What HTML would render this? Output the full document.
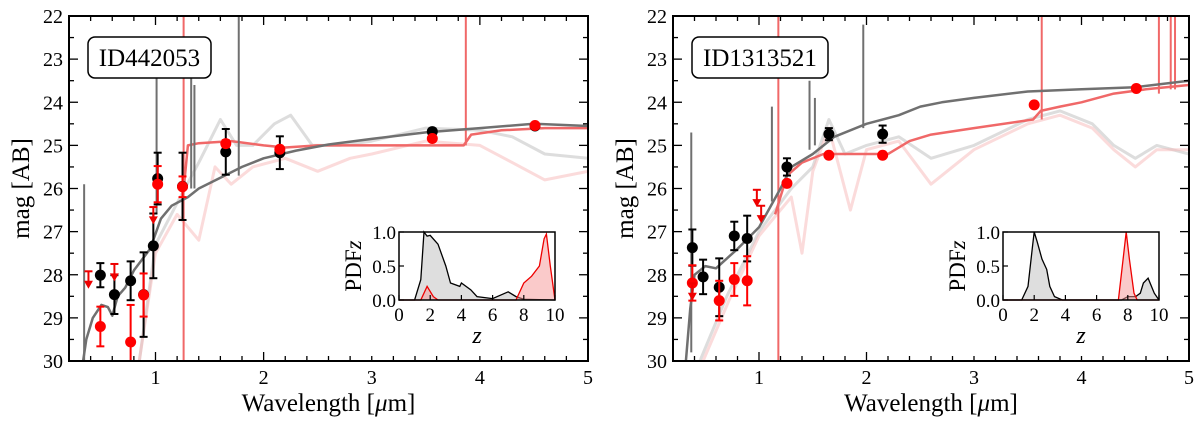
<!DOCTYPE html>
<html><head><meta charset="utf-8"><style>
html,body{margin:0;padding:0;background:#fff;width:1200px;height:425px;overflow:hidden}
svg{display:block;font-family:"Liberation Serif",serif}
</style></head><body>
<svg id="chart" width="1200" height="425" viewBox="0 0 1200 425" xmlns="http://www.w3.org/2000/svg"></svg>
<script>
// ---------- data: panel A (ID442053) ----------
const aBlackPts = [[0.49,28.01,0.28],[0.62,28.46,0.45],[0.77,28.14,0.45],[0.89,28.46,0.98],[0.98,27.33,0.75],[1.02,25.77,0.6],[1.25,25.95,0.78],[1.65,25.15,0.53],[2.15,25.17,0.38],[3.56,24.68,0.05],[4.51,24.55,0.05]];
const aRedPts = [[0.49,29.2,0.46],[0.77,29.56,0.86],[0.89,28.47,0.5],[1.02,25.9,0.42],[1.25,25.96,0.24],[1.65,24.96,0.08],[2.15,25.09,0.06],[3.56,24.84,0.05],[4.51,24.54,0.05]];
const aRedLims = [[0.38,27.92],[0.62,27.75],[0.98,26.43]];
const aBlackModel = [[0.33,30],[0.36,29.5],[0.42,29.0],[0.5,28.7],[0.56,28.75],[0.6,28.95],[0.65,28.5],[0.72,28.3],[0.8,27.9],[0.95,27.4],[1.05,26.7],[1.15,26.4],[1.3,26.2],[1.4,26.0],[1.6,25.75],[1.8,25.5],[2.0,25.3],[2.3,25.12],[2.6,24.98],[3.0,24.85],[3.5,24.7],[4.0,24.6],[4.5,24.5],[5.0,24.55]];
const aBlackSpikes = [[0.34,30,25.9],[1.01,26.6,23.2],[1.33,26.0,23.2],[1.36,26.0,23.6],[1.77,25.7,22.0]];
const aRedModel = [[1.25,26.3],[1.3,25.0],[1.4,24.95],[1.7,24.9],[2.0,25.0],[2.2,25.05],[2.5,25.0],[3.0,25.0],[3.85,25.0],[3.92,24.75],[4.2,24.65],[4.6,24.6],[5.0,24.6]];
const aRedSpikes = [[1.26,30,22],[3.87,25,22]];
const aGreySpec = [[0.85,30],[1.0,27.3],[1.25,26.1],[1.4,25.4],[1.5,24.9],[1.6,24.4],[1.75,25.0],[1.9,25.0],[2.1,24.5],[2.25,24.3],[2.45,25.0],[2.7,25.0],[3.0,24.9],[3.5,24.6],[4.0,24.65],[4.3,24.8],[4.6,25.2],[5.0,25.3]];
const aPinkSpec = [[0.85,30],[1.0,27.5],[1.2,26.6],[1.4,27.2],[1.55,25.5],[1.7,25.9],[1.9,25.5],[2.2,25.3],[2.5,25.6],[2.8,25.3],[3.0,25.2],[3.5,24.9],[4.0,25.0],[4.3,25.4],[4.6,25.8],[5.0,25.6]];
const aPdfBlack = [[0,0],[1.0,0],[1.4,0.3],[1.6,1.0],[1.8,0.94],[2.0,0.95],[2.5,0.82],[3.0,0.5],[3.3,0.25],[3.9,0.2],[4.0,0.25],[4.6,0.15],[5.0,0.05],[6.0,0.02],[7.0,0.12],[7.5,0.05],[8.0,0.01],[10,0]];
const aPdfRed = [[0,0],[1.4,0],[1.8,0.2],[2.2,0.05],[2.5,0],[7.5,0],[8.0,0.25],[8.5,0.35],[9.0,0.5],[9.3,0.9],[9.45,0.97],[9.7,0.5],[10,0]];
// ---------- data: panel B (ID1313521) ----------
const bBlackPts = [[0.38,27.37,0.42],[0.48,28.05,0.4],[0.63,28.29,0.67],[0.77,27.1,0.33],[0.89,27.16,0.53],[1.26,25.5,0.2],[1.65,24.74,0.14],[2.15,24.74,0.2]];
const bRedPts = [[0.38,28.19,0.41],[0.63,28.6,0.46],[0.77,28.11,0.38],[0.89,28.14,0.57],[1.26,25.88,0.05],[1.65,25.23,0.05],[2.15,25.23,0.05],[3.56,24.06,0.05],[4.51,23.68,0.05]];
const bRedLims = [[0.38,28.2],[0.98,26.03],[1.02,26.4]];
const bBlackModel = [[0.32,30],[0.36,28.8],[0.4,28.0],[0.5,27.8],[0.6,27.85],[0.8,27.4],[1.0,26.9],[1.2,26.0],[1.3,25.5],[1.5,25.2],[1.7,24.8],[2.0,24.5],[2.3,24.3],[2.5,24.1],[2.7,24.0],[3.0,23.9],[3.5,23.75],[4.0,23.7],[4.5,23.65],[5.0,23.5]];
const bBlackSpikes = [[0.37,29.8,24.7],[1.12,26.3,24.1],[1.47,25.1,23.5],[1.52,25.0,23.9],[1.97,24.6,22.2]];
const bRedModel = [[1.15,26.6],[1.26,25.7],[1.4,25.4],[1.6,25.2],[2.2,25.2],[2.4,24.9],[2.6,24.75],[3.0,24.6],[3.55,24.4],[3.62,24.2],[3.8,24.1],[4.0,24.0],[4.3,23.8],[4.6,23.7],[5.0,23.6]];
const bRedSpikes = [[1.18,30,22],[3.63,24.4,22],[4.72,23.8,22],[4.83,23.7,22],[4.87,23.7,22]];
const bGreySpec = [[0.45,30],[0.7,28.5],[1.0,27.0],[1.3,26.0],[1.5,25.5],[1.65,24.4],[1.8,25.2],[2.0,25.0],[2.3,24.8],[2.6,25.3],[3.0,25.0],[3.5,24.4],[3.8,24.2],[4.1,24.5],[4.3,25.0],[4.5,25.3],[4.7,25.0],[5.0,25.2]];
const bPinkSpec = [[0.48,30],[0.72,28.6],[1.0,27.1],[1.3,26.2],[1.4,27.5],[1.5,25.6],[1.65,24.6],[1.85,26.5],[2.0,25.1],[2.3,24.9],[2.6,25.9],[3.0,25.1],[3.5,24.5],[3.8,24.3],[4.1,24.6],[4.3,25.1],[4.5,25.5],[4.7,25.1],[5.0,25.1]];
const bPdfBlack = [[0,0],[1.2,0],[1.6,0.2],[1.9,0.8],[2.0,1.0],[2.2,0.85],[2.5,0.6],[2.8,0.45],[3.0,0.2],[3.3,0.05],[3.8,0],[7.6,0],[8.0,0.05],[8.5,0.05],[8.8,0.1],[9.0,0.25],[9.3,0.32],[9.7,0.1],[10,0]];
const bPdfRed = [[0,0],[7.4,0],[7.7,0.6],[7.9,1.0],[8.1,0.6],[8.4,0.1],[8.6,0],[10,0]];
const xTicks = [1,2,3,4,5];
const yTicks = [22,23,24,25,26,27,28,29,30];
const zTicks = [0,2,4,6,8,10];
const pTicks = [0.0,0.5,1.0];

const NS = "http://www.w3.org/2000/svg";
const svg = document.getElementById('chart');
function el(tag, attrs, parent, text){
  const e = document.createElementNS(NS, tag);
  for (const k in attrs) e.setAttribute(k, attrs[k]);
  if (text !== undefined) e.textContent = text;
  (parent||svg).appendChild(e); return e;
}

function panel(P){
  const g = el('g', {});
  
  
  const X = v => P.x0 + (v - 0.2) / 4.8 * (P.x1 - P.x0);
  const Y = v => P.y0 + (v - 22) / 8 * (P.y1 - P.y0);
  const clipId = P.name + '-clip';
  const defs = el('defs', {}, g);
  const cp = el('clipPath', {id: clipId}, defs);
  el('rect', {x:P.x0, y:P.y0, width:P.x1-P.x0, height:P.y1-P.y0}, cp);
  const plot = el('g', {'clip-path':'url(#'+clipId+')'}, g);
  function line(pts, stroke, w, op, name){
    const d = pts.map((p,i)=>(i?'L':'M')+X(p[0]).toFixed(1)+','+Y(p[1]).toFixed(1)).join('');
    const p = el('path', {d:d, fill:'none', stroke:stroke, 'stroke-width':w, opacity:op, 'stroke-linejoin':'round'}, plot);
    
    
  }
  line(P.grey, '#cfcfcf', 3, 0.7, 'galaxy-template-spectrum');
  line(P.pink, '#f7b8b8', 3, 0.5, 'lowz-template-spectrum');
  line(P.redModel, '#f06868', 2.5, 1, 'highz-model-sed');
  P.redSpikes.forEach(s=>{
    const l = el('line', {x1:X(s[0]), x2:X(s[0]), y1:Y(s[1]), y2:Y(s[2]), stroke:'#f06868', 'stroke-width':2}, plot);
    
    
  });
  line(P.blackModel, '#707070', 2.5, 1, 'lowz-model-sed');
  P.blackSpikes.forEach(s=>{
    const l = el('line', {x1:X(s[0]), x2:X(s[0]), y1:Y(s[1]), y2:Y(s[2]), stroke:'#707070', 'stroke-width':2}, plot);
    
    
  });
  function points(pts, col, name){
    pts.forEach(p=>{
      const cx = X(p[0]);
      if (p[2] > 0.06){
        const a = el('line', {x1:cx, x2:cx, y1:Y(p[1]-p[2]), y2:Y(p[1]+p[2]), stroke:col, 'stroke-width':2}, plot);
        
        
        [p[1]-p[2], p[1]+p[2]].forEach(v=>el('line', {x1:cx-4, x2:cx+4, y1:Y(v), y2:Y(v), stroke:col, 'stroke-width':2}, plot));
      }
      const c = el('circle', {cx:cx, cy:Y(p[1]), r:5.5, fill:col}, plot);
      
      
    });
  }
  points(P.black, '#000', 'lowz-photometry-point');
  points(P.red, '#f00', 'highz-photometry-point');
  P.lims.forEach(p=>{
    const cx = X(p[0]), yt = Y(p[1]), yb = Y(p[1]+0.38);
    const gg = el('g', {}, plot);
    
    
    el('line', {x1:cx-4, x2:cx+4, y1:yt, y2:yt, stroke:'#e00', 'stroke-width':2}, gg);
    el('line', {x1:cx, x2:cx, y1:yt, y2:yb-4, stroke:'#e00', 'stroke-width':2}, gg);
    el('path', {d:`M${cx-4.5},${yb-7}L${cx+4.5},${yb-7}L${cx},${yb+1}Z`, fill:'#e00'}, gg);
  });
  // frame
  const fr = el('rect', {x:P.x0, y:P.y0, width:P.x1-P.x0, height:P.y1-P.y0, fill:'none', stroke:'#000', 'stroke-width':2}, g);
  
  
  // ticks
  for (let v=0.2; v<=5.001; v+=0.2){
    const major = Math.abs(v - Math.round(v)) < 0.01 && Math.round(v)>=1;
    const L = major ? 9 : 5, x = X(v);
    el('line', {x1:x, x2:x, y1:P.y1, y2:P.y1-L, stroke:'#000', 'stroke-width':1.3}, g);
    el('line', {x1:x, x2:x, y1:P.y0, y2:P.y0+L, stroke:'#000', 'stroke-width':1.3}, g);
  }
  for (let v=22; v<=30.001; v+=0.5){
    const major = Math.abs(v-Math.round(v))<0.01, L = major?9:5, y=Y(v);
    el('line', {x1:P.x0, x2:P.x0+L, y1:y, y2:y, stroke:'#000', 'stroke-width':1.3}, g);
    el('line', {x1:P.x1, x2:P.x1-L, y1:y, y2:y, stroke:'#000', 'stroke-width':1.3}, g);
  }
  xTicks.forEach(v=>{
    const t = el('text', {x:X(v), y:P.y1+23, 'text-anchor':'middle', 'font-size':20}, g, String(v));
    
    
  });
  yTicks.forEach(v=>{
    const t = el('text', {x:P.x0-6, y:Y(v)+7, 'text-anchor':'end', 'font-size':20}, g, String(v));
    
    
  });
  const xt = el('text', {x:(P.x0+P.x1)/2, y:P.y1+50, 'text-anchor':'middle', 'font-size':25}, g);
  xt.innerHTML = 'Wavelength [<tspan font-style="italic">μ</tspan>m]';
  
  
  const yt = el('text', {x:0, y:0, 'text-anchor':'middle', 'font-size':25, transform:`translate(${P.x0-40},${(P.y0+P.y1)/2}) rotate(-90)`}, g, 'mag [AB]');
  
  
  // id label
  const lb = el('g', {}, g);
  
  
  el('rect', {x:P.lx, y:37, width:P.lw, height:41, rx:7, fill:'#fff', stroke:'#000', 'stroke-width':1.5}, lb);
  el('text', {x:P.lx+P.lw/2, y:66, 'text-anchor':'middle', 'font-size':25}, lb, P.label);
  // inset
  const ix0=P.ix, ix1=P.ix+156, iy0=232, iy1=300;
  const IX = z => ix0 + z/10*(ix1-ix0), IY = p => iy1 - p*(iy1-iy0);
  const ins = el('g', {}, g);
  
  
  el('rect', {x:ix0-42, y:iy0-4, width:ix1-ix0+60, height:iy1-iy0+60, fill:'#fff'}, ins);
  function pdf(pts, fill, stroke, name){
    const d = pts.map((p,i)=>(i?'L':'M')+IX(p[0]).toFixed(1)+','+IY(p[1]).toFixed(1)).join('');
    const a = el('path', {d:d+'Z', fill:fill, stroke:'none'}, ins);
    const b = el('path', {d:d, fill:'none', stroke:stroke, 'stroke-width':1.3}, ins);
    
    
  }
  pdf(P.pdfB, 'rgba(200,200,200,0.6)', '#000', 'lowz-pdf-curve');
  pdf(P.pdfR, 'rgba(245,150,150,0.5)', '#e00', 'highz-pdf-curve');
  el('rect', {x:ix0, y:iy0, width:ix1-ix0, height:iy1-iy0, fill:'none', stroke:'#000', 'stroke-width':1.5}, ins);
  zTicks.forEach(v=>{
    el('line', {x1:IX(v), x2:IX(v), y1:iy1, y2:iy1-5, stroke:'#000', 'stroke-width':1.2}, ins);
    const t = el('text', {x:IX(v), y:iy1+21, 'text-anchor':'middle', 'font-size':19}, ins, String(v));
    
    
  });
  pTicks.forEach(v=>{
    el('line', {x1:ix0, x2:ix0+5, y1:IY(v), y2:IY(v), stroke:'#000', 'stroke-width':1.2}, ins);
    const t = el('text', {x:ix0-3, y:IY(v)+7, 'text-anchor':'end', 'font-size':19}, ins, v.toFixed(1));
    
    
  });
  const zt = el('text', {x:(ix0+ix1)/2, y:iy1+43, 'text-anchor':'middle', 'font-size':24, 'font-style':'italic'}, ins, 'z');
  
  
  const pt = el('text', {x:0, y:0, 'text-anchor':'middle', 'font-size':23, transform:`translate(${ix0-38},${(iy0+iy1)/2}) rotate(-90)`}, ins);
  pt.innerHTML = 'PDF<tspan font-style="italic">z</tspan>';
  
  
}

panel({name:'panel-id442053', x0:69, x1:588, y0:16, y1:361, label:'ID442053', lx:88, lw:123, ix:399,
  black:aBlackPts, red:aRedPts, lims:aRedLims, blackModel:aBlackModel, blackSpikes:aBlackSpikes,
  redModel:aRedModel, redSpikes:aRedSpikes, grey:aGreySpec, pink:aPinkSpec, pdfB:aPdfBlack, pdfR:aPdfRed});
panel({name:'panel-id1313521', x0:673, x1:1189, y0:16, y1:361, label:'ID1313521', lx:692, lw:136, ix:1003,
  black:bBlackPts, red:bRedPts, lims:bRedLims, blackModel:bBlackModel, blackSpikes:bBlackSpikes,
  redModel:bRedModel, redSpikes:bRedSpikes, grey:bGreySpec, pink:bPinkSpec, pdfB:bPdfBlack, pdfR:bPdfRed});
</script>
</body></html>
